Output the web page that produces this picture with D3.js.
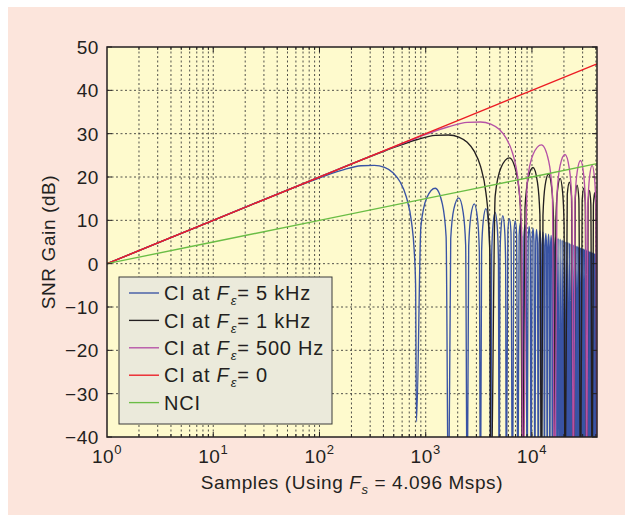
<!DOCTYPE html>
<html>
<head>
<meta charset="utf-8">
<script src="https://cdn.jsdelivr.net/npm/d3@7/dist/d3.min.js"></script>
<style>
body { margin: 0; background: #fff; }
text { font-family: Arial, "Liberation Sans", Helvetica, sans-serif; fill: #231f20; letter-spacing: 0.6px; }
</style>
</head>
<body>
<div id="chart"></div>
<script>
// tick values
var xTickValues = [1, 10, 100, 1000, 10000];
var xTickExps = ["0", "1", "2", "3", "4"];
var yTickValues = [-40, -30, -20, -10, 0, 10, 20, 30, 40, 50];

// [samples, SNR gain dB] (-60 = null below the axis)
var ciZero = [[1,0],[10,10],[100,20],[1000,30],[10000,40],[40960,46.1]];
var nci = [[1,0],[10,5],[100,10],[1000,15],[10000,20],[40960,23.1]];

var ci500 = [[1,0],[10,10],[100,20],[410,26.1],[819,29.0],[1638,31.6],[2458,32.6],[3277,32.7],[4096,32.2],[4915,31.0],[5734,28.9],[6554,25.6],[7373,19.5],[7782,13.3],[8028,5.3],[8192,-60],
  [9011,18.6],[10240,25.2],[12288,27.4],[14336,23.8],[15565,16.2],[16384,-60],
  [17203,15.8],[18432,22.7],[20480,25.2],[22528,21.8],[23757,14.4],[24576,-60],
  [25395,14.1],[26624,21.1],[28672,23.8],[30720,20.4],[31949,13.1],[32768,-60],
  [33587,12.9],[34816,19.9],[36864,22.7],[38912,19.4],[40141,12.1],[40960,-60]];

var ci1k = [[1,0],[10,10],[100,20],[410,26.0],[819,28.6],[1229,29.6],[1638,29.7],[2048,29.2],[2458,28.0],[2867,25.9],[3277,22.5],[3686,16.4],[3891,10.3],[4014,2.2],[4096,-60],
  [4506,15.6],[5120,22.2],[6144,24.4],[7168,20.7],[7782,13.2],[8192,-60],
  [8602,12.8],[9216,19.7],[10240,22.2],[11264,18.8],[11878,11.4],[12288,-60],
  [12698,11.1],[13312,18.1],[14336,20.7],[15360,17.4],[15974,10.1],[16384,-60],
  [16794,9.9],[17408,16.9],[18432,19.7],[19456,16.4],[20070,9.1],[20480,-60],
  [21504,16.0],[22528,18.8],[23552,15.6],[24576,-60],
  [25600,15.2],[26624,18.1],[27648,14.9],[28672,-60],
  [29696,14.5],[30720,17.4],[31744,14.3],[32768,-60],
  [33792,14.0],[34816,16.9],[35840,13.8],[36864,-60],
  [37888,13.5],[38912,16.4],[39936,13.3],[40960,-60]];

var ci5k = [[1,0],[10,10],[82,19.0],[164,21.6],[246,22.6],[328,22.7],[410,22.2],[492,21.0],[573,18.9],[655,15.5],[737,9.4],[778,3.3],[803,-4.8],[819,-36.5],
  [901,8.6],[1024,15.2],[1229,17.4],[1434,13.8],[1556,6.2],[1638,-60],
  [1720,5.8],[1843,12.7],[2048,15.2],[2253,11.8],[2376,4.4],[2458,-60],
  [2539,4.1],[2662,11.1],[2867,13.8],[3072,10.4],[3195,3.1],[3277,-60],
  [3359,2.9],[3482,9.9],[3686,12.7],[3891,9.4],[4014,2.1],[4096,-60],
  [4178,1.9],[4301,9.0],[4506,11.8],[4710,8.6],[4833,1.3],[4915,-60],
  [4997,1.1],[5120,8.2],[5325,11.1],[5530,7.9],[5652,0.6],[5734,-60],
  [5939,7.6],[6144,10.4],[6349,7.3],[6554,-60],
  [6758,7.0],[6963,9.9],[7168,6.8],[7373,-60],
  [7578,6.5],[7782,9.4],[7987,6.3],[8192,-60],
  [8397,6.1],[8602,9.0],[8806,5.9],[9011,-60],
  [9216,5.7],[9421,8.6],[9626,5.5],[9830,-60],
  [10035,5.3],[10240,8.2],[10445,5.1],[10650,-60],
  [10854,5.0],[11059,7.9],[11264,4.8],[11469,-60],
  [11674,4.6],[11878,7.6],[12083,4.5],[12288,-60],
  [12493,4.3],[12698,7.3],[12902,4.2],[13107,-60],
  [13312,4.1],[13517,7.0],[13722,3.9],[13926,-60],
  [14131,3.8],[14336,6.8],[14541,3.7],[14746,-60],
  [14950,3.6],[15155,6.5],[15360,3.5],[15565,-60],
  [15770,3.3],[15974,6.3],[16179,3.2],[16384,-60],
  [16589,3.1],[16794,6.1],[16998,3.0],[17203,-60],
  [17613,5.9],[18022,-60],[18432,5.7],[18842,-60],[19251,5.5],[19661,-60],[20070,5.3],[20480,-60],
  [20890,5.1],[21299,-60],[21709,5.0],[22118,-60],[22528,4.8],[22938,-60],[23347,4.6],[23757,-60],
  [24166,4.5],[24576,-60],[24986,4.4],[25395,-60],[25805,4.2],[26214,-60],[26624,4.1],[27034,-60],
  [27443,3.9],[27853,-60],[28262,3.8],[28672,-60],[29082,3.7],[29491,-60],[29901,3.6],[30310,-60],
  [30720,3.5],[31130,-60],[31539,3.3],[31949,-60],[32358,3.2],[32768,-60],[33178,3.1],[33587,-60],
  [33997,3.0],[34406,-60],[34816,2.9],[35226,-60],[35635,2.8],[36045,-60],[36454,2.7],[36864,-60],
  [37274,2.6],[37683,-60],[38093,2.5],[38502,-60],[38912,2.4],[39322,-60],[39731,2.3],[40141,-60],
  [40550,2.2],[40960,-60]];

var seriesData = [ci5k, ci1k, ci500, ciZero, nci];
var seriesColors = ["#3953a4", "#231f20", "#b551a6", "#ec1c24", "#6abd45"];
var legendValues = ["5 kHz", "1 kHz", "500 Hz", "0", null];

var W = 633, H = 524;
var margin = {top: 47, right: 36, bottom: 87, left: 107},
    width = W - margin.left - margin.right,
    height = H - margin.top - margin.bottom;

var x = d3.scaleLog().domain([1, 40960]).range([0, width]);
var y = d3.scaleLinear().domain([-40, 50]).range([height, 0]);

var svg = d3.select("#chart").append("svg")
    .attr("width", W)
    .attr("height", H);

// page panel
svg.append("rect")
    .attr("x", 8).attr("y", 7)
    .attr("width", 617).attr("height", 508)
    .attr("fill", "#fce5dc");

var g = svg.append("g")
    .attr("transform", "translate(" + margin.left + "," + margin.top + ")");

g.append("rect")
    .attr("width", width).attr("height", height)
    .attr("fill", "#fefacd");

// log minor positions
var minor = [];
for (var e = 0; e <= 4; e++) {
  for (var m = 2; m <= 9; m++) {
    var v = m * Math.pow(10, e);
    if (v < 40960) minor.push(v);
  }
}
var majorInner = xTickValues.filter(function(d) { return d > 1; });

// grid
var grid = g.append("g")
    .attr("stroke", "#333")
    .attr("stroke-width", 0.85)
    .attr("stroke-dasharray", "2,2.5");

grid.selectAll(".vx").data(majorInner.concat(minor)).enter().append("line")
    .attr("x1", function(d) { return x(d); }).attr("x2", function(d) { return x(d); })
    .attr("y1", 0).attr("y2", height);

grid.selectAll(".hy").data(yTickValues.slice(1, -1)).enter().append("line")
    .attr("x1", 0).attr("x2", width)
    .attr("y1", function(d) { return y(d); }).attr("y2", function(d) { return y(d); });

// curves
g.append("clipPath").attr("id", "clip")
  .append("rect").attr("width", width).attr("height", height);

var line = d3.line()
    .x(function(d) { return x(d[0]); })
    .y(function(d) { return y(d[1]); })
    .curve(d3.curveMonotoneX);

g.append("g").attr("clip-path", "url(#clip)")
  .selectAll("path").data(seriesData).enter().append("path")
    .attr("d", line)
    .attr("fill", "none")
    .attr("stroke", function(d, i) { return seriesColors[i]; })
    .attr("stroke-width", 1.35)
    .attr("stroke-linejoin", "round");

// frame ticks (inward, all four sides)
var ticks = g.append("g").attr("stroke", "#231f20").attr("stroke-width", 1);
yTickValues.forEach(function(d) {
  ticks.append("line").attr("x1", 0).attr("x2", 5).attr("y1", y(d)).attr("y2", y(d));
  ticks.append("line").attr("x1", width).attr("x2", width - 5).attr("y1", y(d)).attr("y2", y(d));
});
majorInner.forEach(function(d) {
  ticks.append("line").attr("x1", x(d)).attr("x2", x(d)).attr("y1", height).attr("y2", height - 5);
  ticks.append("line").attr("x1", x(d)).attr("x2", x(d)).attr("y1", 0).attr("y2", 5);
});
minor.forEach(function(d) {
  ticks.append("line").attr("x1", x(d)).attr("x2", x(d)).attr("y1", height).attr("y2", height - 3);
  ticks.append("line").attr("x1", x(d)).attr("x2", x(d)).attr("y1", 0).attr("y2", 3);
});

g.append("rect")
    .attr("width", width).attr("height", height)
    .attr("fill", "none")
    .attr("stroke", "#231f20")
    .attr("stroke-width", 1.5);

// y tick labels
g.selectAll(".ylab").data(yTickValues).enter().append("text")
    .attr("x", -8)
    .attr("y", function(d) { return y(d); })
    .attr("dy", "0.36em")
    .attr("text-anchor", "end")
    .style("font-size", "19px")
    .text(function(d) { return d < 0 ? "\u2212" + Math.abs(d) : d; });

// x tick labels 10^n
var xl = g.selectAll(".xlab").data(xTickValues).enter().append("text")
    .attr("x", function(d) { return x(d); })
    .attr("y", height + 26)
    .attr("text-anchor", "middle")
    .style("font-size", "19px");
xl.append("tspan").text("10");
xl.append("tspan").attr("dy", -9).style("font-size", "13px")
    .text(function(d, i) { return xTickExps[i]; });

// axis titles
var xt = g.append("text")
    .attr("x", width / 2)
    .attr("y", height + 52)
    .attr("text-anchor", "middle")
    .style("font-size", "19px");
xt.append("tspan").text("Samples (Using ");
xt.append("tspan").style("font-style", "italic").text("F");
xt.append("tspan").attr("dy", 5).style("font-style", "italic").style("font-size", "13px").text("s");
xt.append("tspan").attr("dy", -5).text(" = 4.096 Msps)");

g.append("text")
    .attr("transform", "translate(-52," + (height / 2) + ") rotate(-90)")
    .attr("text-anchor", "middle")
    .style("font-size", "19px")
    .text("SNR Gain (dB)");

// legend
var legend = g.append("g").attr("transform", "translate(12,230)");
legend.append("rect")
    .attr("width", 213).attr("height", 147)
    .attr("fill", "#ebeadb")
    .attr("stroke", "#3a3a3a")
    .attr("stroke-width", 1);

var rows = legend.selectAll(".row").data(legendValues).enter().append("g")
    .attr("transform", function(d, i) { return "translate(0," + (16 + i * 27.4) + ")"; });

rows.append("line")
    .attr("x1", 10).attr("x2", 40)
    .attr("stroke", function(d, i) { return seriesColors[i]; })
    .attr("stroke-width", 1.35);

var lt = rows.append("text")
    .attr("x", 45)
    .attr("dy", "0.36em")
    .style("font-size", "20px")
    .style("letter-spacing", "0.8px");
lt.each(function(d) {
  var t = d3.select(this);
  if (d === null) { t.text("NCI"); return; }
  t.append("tspan").text("CI at ");
  t.append("tspan").style("font-style", "italic").text("F");
  t.append("tspan").attr("dy", 5).attr("dx", 1).style("font-style", "italic").style("font-size", "13px").text("\u03b5");
  t.append("tspan").attr("dy", -5).text("= " + d);
});
</script>
</body>
</html>
